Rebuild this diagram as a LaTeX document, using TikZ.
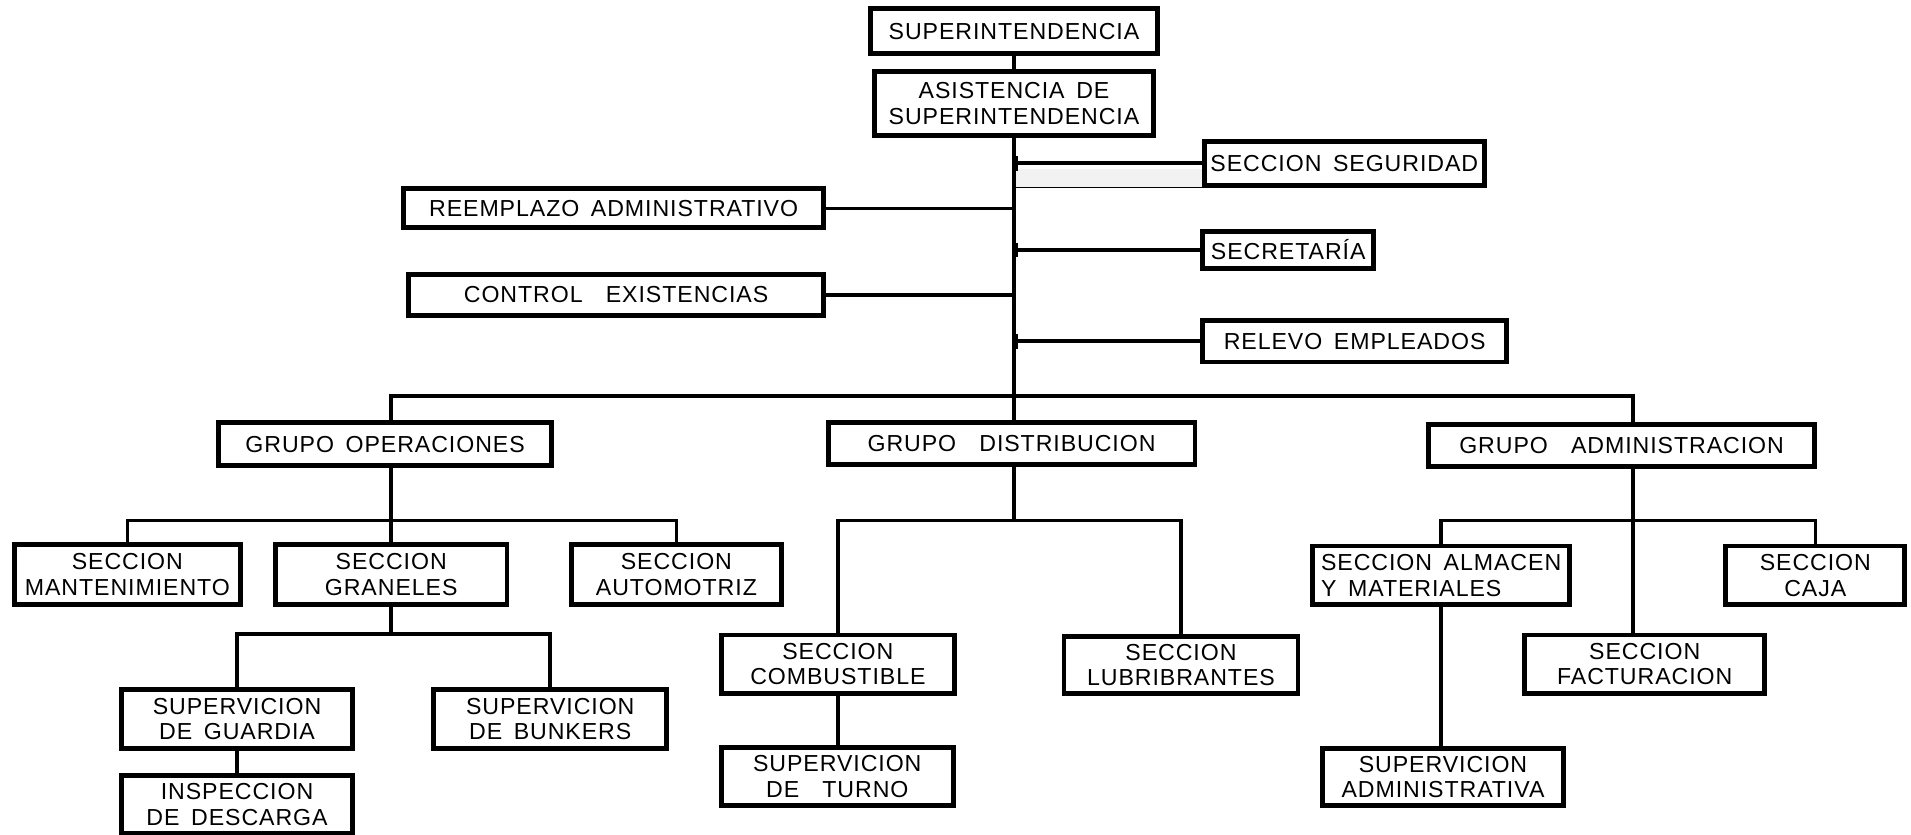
\documentclass[tikz,border=0pt]{standalone}
\usepackage{fontspec}
\setmainfont{Liberation Sans}[LetterSpace=4]
\usetikzlibrary{arrows.meta}

\begin{document}
\begin{tikzpicture}[x=1pt,y=-1pt,
  box/.style={draw, line width=4pt, inner sep=0pt, align=center,
    font=\fontsize{19}{21}\selectfont},
  link/.style={line width=3pt},
  tick/.style={{Bar[width=12pt,length=0pt]}-}]
\useasboundingbox (0,0) rectangle (1568,685);

% --- top of the hierarchy
\node[box, minimum width=235pt, minimum height=37pt] (sup)   at (832,25.5) {SUPERINTENDENCIA};
\node[box, minimum width=229pt, minimum height=52pt] (asis)  at (832,85)   {ASISTENCIA\enspace DE\\SUPERINTENDENCIA};

% staff units beside the trunk
\node[box, minimum width=230pt, minimum height=36pt] (seg)   at (1103,134)  {SECCION\enspace SEGURIDAD};
\node[box, minimum width=345pt, minimum height=32pt] (reem)  at (503.5,171) {REEMPLAZO\enspace ADMINISTRATIVO};
\node[box, minimum width=140pt, minimum height=30pt] (secr)  at (1057,205)   {SECRETARÍA};
\node[box, minimum width=341pt, minimum height=34pt] (ctrl)  at (505.5,242)  {CONTROL\quad EXISTENCIAS};
\node[box, minimum width=249pt, minimum height=34pt] (rele)  at (1111.5,280) {RELEVO\enspace EMPLEADOS};

% --- groups
\node[box, minimum width=273pt, minimum height=35pt] (gop)   at (316,364.5)  {GRUPO\enspace OPERACIONES};
\node[box, minimum width=301pt, minimum height=34pt] (gdist) at (830,364)    {GRUPO\quad DISTRIBUCION};
\node[box, minimum width=317pt, minimum height=35pt] (gadm)  at (1330.5,365.5) {GRUPO\quad ADMINISTRACION};

% --- operaciones
\node[box, minimum width=185pt, minimum height=49pt] (mant)  at (104.5,471.5) {SECCION\\MANTENIMIENTO};
\node[box, minimum width=190pt, minimum height=49pt] (gran)  at (321,471.5)   {SECCION\\GRANELES};
\node[box, minimum width=172pt, minimum height=49pt] (auto)  at (555,471.5)   {SECCION\\AUTOMOTRIZ};
\node[box, minimum width=189pt, minimum height=48pt] (guard) at (194.5,590)   {SUPERVICION\\DE\enspace GUARDIA};
\node[box, minimum width=191pt, minimum height=48pt] (bunk)  at (451.5,590)   {SUPERVICION\\DE\enspace BUNKERS};
\node[box, minimum width=189pt, minimum height=48pt] (insp)  at (194.5,660)   {INSPECCION\\DE\enspace DESCARGA};

% --- distribucion
\node[box, minimum width=191pt, minimum height=48pt] (comb)  at (687.5,545)   {SECCION\\COMBUSTIBLE};
\node[box, minimum width=192pt, minimum height=47pt] (lubr)  at (969,545.5)   {SECCION\\LUBRIBRANTES};
\node[box, minimum width=190pt, minimum height=48pt] (turno) at (687,637)     {SUPERVICION\\DE\quad TURNO};

% --- administracion
\node[box, minimum width=211pt, minimum height=48pt, align=left] (alm) at (1182.5,472) {SECCION\enspace ALMACEN\\Y\enspace MATERIALES};
\node[box, minimum width=147pt, minimum height=48pt] (caja)  at (1489.5,472)  {SECCION\\CAJA};
\node[box, minimum width=197pt, minimum height=48pt] (fact)  at (1349.5,545)  {SECCION\\FACTURACION};
\node[box, minimum width=198pt, minimum height=47pt] (supadm) at (1184,637.5) {SUPERVICION\\ADMINISTRATIVA};

% junction levels
\coordinate (jop)  at (321,325);
\coordinate (jadm) at (1340,325);
\coordinate (opbar) at (0,427);
\coordinate (gbar) at (0,520);

% --- trunk and staff branches
\draw[link] (sup) -- (asis);
\fill[gray!10] (asis.south |- 0,139) rectangle (seg.south west);
\draw[line width=1pt] (asis.south |- seg.south) -- (seg.south west);
\draw[link] (asis.south) -- (gdist.north -| asis.south);
\draw[link,tick] (asis.south |- seg.west) -- (seg.west);
\draw[link,tick] (asis.south |- secr.west) -- (secr.west);
\draw[link,tick] (asis.south |- rele.west) -- (rele.west);
\draw[link] (reem.east) -- (asis.south |- reem.east);
\draw[link] (ctrl.east) -- (asis.south |- ctrl.east);

% --- main bar to the groups
\draw[link] (gop.north -| jop) -- (jop) -- (jadm) -- (gadm.north -| jadm);

% --- operaciones
\draw[link] (gop.south -| jop) -- (gran.north);
\draw[link] (mant.north) -- (mant.north |- opbar) -- (auto.north |- opbar) -- (auto.north);
\draw[link] (gran.south) -- (gran.south |- gbar);
\draw[link] (guard.north) -- (guard.north |- gbar) -- (bunk.north |- gbar) -- (bunk.north);
\draw[link] (guard.south) -- (insp.north);

% --- distribucion
\draw[link] (gdist.south -| asis.south) -- (asis.south |- opbar);
\draw[link] (comb.north) -- (comb.north |- opbar) -- (lubr.north |- opbar) -- (lubr.north);
\draw[link] (comb.south) -- (turno.north -| comb.south);

% --- administracion
\draw[link] (gadm.south -| jadm) -- (fact.north -| jadm);
\draw[link] (alm.north) -- (alm.north |- opbar) -- (caja.north |- opbar) -- (caja.north);
\draw[link] (alm.south) -- (supadm.north -| alm.south);
\end{tikzpicture}
\end{document}
